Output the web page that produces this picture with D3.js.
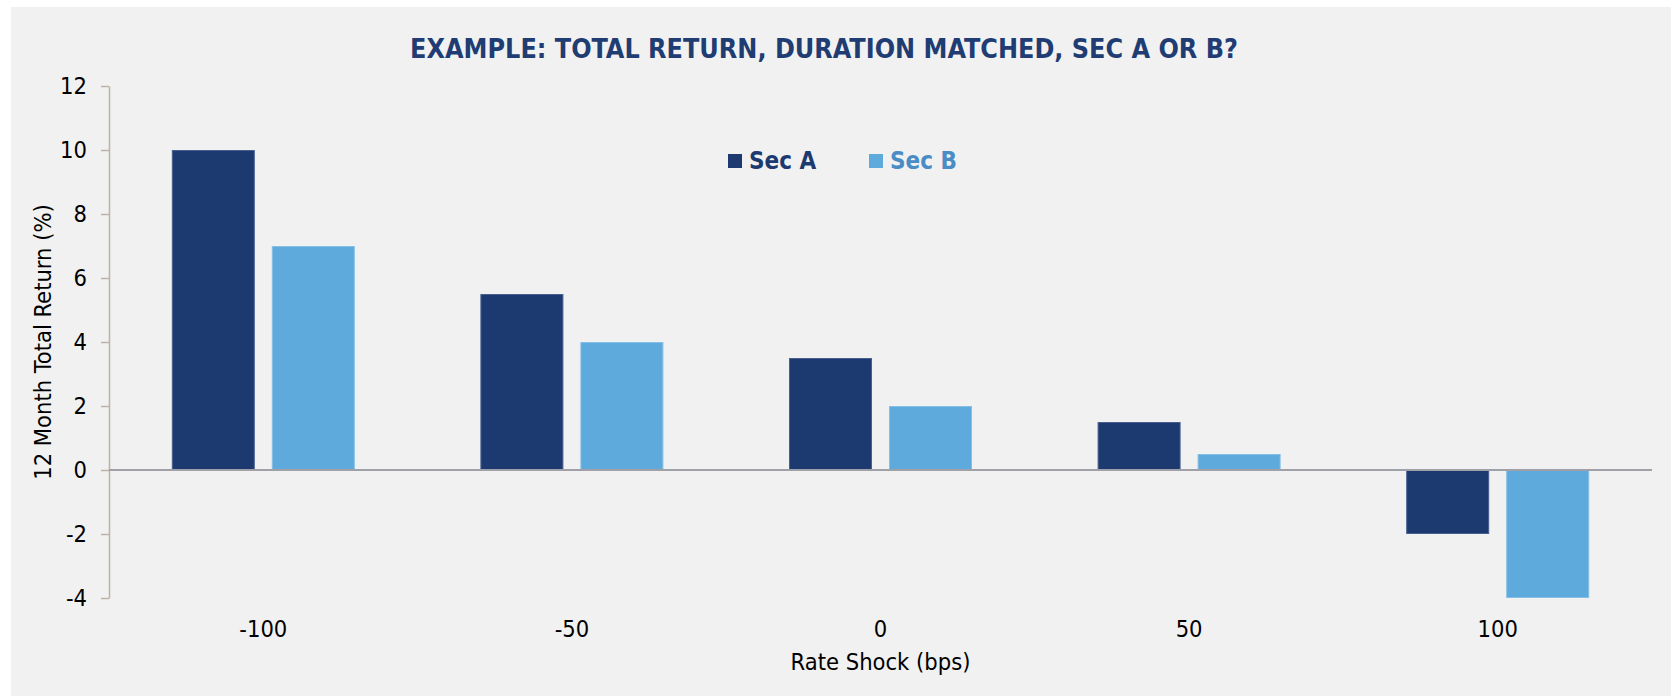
<!DOCTYPE html>
<html>
<head>
<meta charset="utf-8">
<script src="https://cdn.jsdelivr.net/npm/d3@7"></script>
<style>
  body { margin: 0; background: #ffffff; }
  svg { display: block; }
</style>
</head>
<body>
<div id="chart"></div>
<script>
// Chart data
const rateShocks = ['-100', '-50', '0', '50', '100'];
const seriesNames = ['Sec A', 'Sec B'];
const secA = [10, 5.5, 3.5, 1.5, -2];
const secB = [7, 4, 2, 0.5, -4];
const yTicks = [-4, -2, 0, 2, 4, 6, 8, 10, 12];

const width = 1671, height = 696;
const font = '"DejaVu Sans Condensed", "DejaVu Sans", sans-serif';
const colors = { 'Sec A': '#1c3a70', 'Sec B': '#5eaadd' };
const strokes = { 'Sec A': '#48608f', 'Sec B': '#86bfe6' };
const legendText = { 'Sec A': '#1c3a70', 'Sec B': '#4a8cc6' };

// rows for grouped bars
const rows = rateShocks.map((r, i) => ({ shock: r, 'Sec A': secA[i], 'Sec B': secB[i] }));

const svg = d3.select('#chart').append('svg')
    .attr('width', width)
    .attr('height', height);

// panel background
svg.append('rect')
    .attr('x', 11)
    .attr('y', 7)
    .attr('width', width - 11)
    .attr('height', height - 7)
    .attr('fill', '#f1f1f1');

const left = 109, right = 1652;

const x0 = d3.scaleBand()
    .domain(rateShocks)
    .range([left, right])
    .paddingInner(0.407)
    .paddingOuter(0.2035);

const x1 = d3.scaleBand()
    .domain(seriesNames)
    .range([0, x0.bandwidth()])
    .paddingInner(0.17);

const y = d3.scaleLinear()
    .domain([-4, 12])
    .range([598, 86]);

// title
svg.append('text')
    .attr('x', 824)
    .attr('y', 58)
    .attr('text-anchor', 'middle')
    .style('font-family', font)
    .style('font-weight', 'bold')
    .style('font-size', '26.7px')
    .attr('fill', '#1f3c73')
    .text('EXAMPLE: TOTAL RETURN, DURATION MATCHED, SEC A OR B?');

// y axis
const yAxis = svg.append('g')
    .attr('transform', `translate(${left},0)`)
    .call(d3.axisLeft(y).tickValues(yTicks).tickFormat(d => String(d))
        .tickSize(8).tickPadding(14).tickSizeOuter(0));
yAxis.select('.domain').attr('stroke', '#bcb3a6').attr('stroke-width', 1.5);
yAxis.selectAll('.tick line').attr('stroke', '#bcb3a6').attr('stroke-width', 1.5);
yAxis.selectAll('.tick text')
    .style('font-family', font)
    .style('font-size', '23.5px')
    .attr('fill', '#000');

// y axis title
svg.append('text')
    .attr('transform', 'translate(51,342) rotate(-90)')
    .attr('text-anchor', 'middle')
    .style('font-family', font)
    .style('font-size', '23.5px')
    .attr('fill', '#000')
    .text('12 Month Total Return (%)');

// bars
const groups = svg.append('g')
    .selectAll('g')
    .data(rows)
    .join('g')
      .attr('transform', d => `translate(${x0(d.shock)},0)`);

groups.selectAll('rect')
    .data(d => seriesNames.map(s => ({ key: s, value: d[s] })))
    .join('rect')
      .attr('x', d => x1(d.key) + 0.5)
      .attr('y', d => y(Math.max(0, d.value)) + 0.5)
      .attr('width', x1.bandwidth() - 1)
      .attr('height', d => Math.abs(y(d.value) - y(0)) - 1)
      .attr('fill', d => colors[d.key])
      .attr('stroke', d => strokes[d.key])
      .attr('stroke-width', 1);

// zero line
svg.append('line')
    .attr('x1', left)
    .attr('x2', right)
    .attr('y1', y(0))
    .attr('y2', y(0))
    .attr('stroke', '#a0a0a8')
    .attr('stroke-width', 2);

// x axis labels
const xAxis = svg.append('g')
    .attr('transform', `translate(0,${y(-4)})`)
    .call(d3.axisBottom(x0).tickSize(0).tickPadding(22));
xAxis.select('.domain').remove();
xAxis.selectAll('.tick text')
    .style('font-family', font)
    .style('font-size', '23.5px')
    .attr('fill', '#000');

// x axis title
svg.append('text')
    .attr('x', (left + right) / 2)
    .attr('y', 670)
    .attr('text-anchor', 'middle')
    .style('font-family', font)
    .style('font-size', '23.5px')
    .attr('fill', '#000')
    .text('Rate Shock (bps)');

// legend
const legend = svg.append('g')
    .attr('transform', 'translate(728,154)');

const legendItems = legend.selectAll('g')
    .data(seriesNames)
    .join('g')
      .attr('transform', (d, i) => `translate(${i * 141},0)`);

legendItems.append('rect')
    .attr('width', 14)
    .attr('height', 14)
    .attr('fill', d => colors[d]);

legendItems.append('text')
    .attr('x', 21)
    .attr('y', 15)
    .style('font-family', font)
    .style('font-weight', 'bold')
    .style('font-size', '24px')
    .attr('fill', d => legendText[d])
    .text(d => d);
</script>
</body>
</html>
